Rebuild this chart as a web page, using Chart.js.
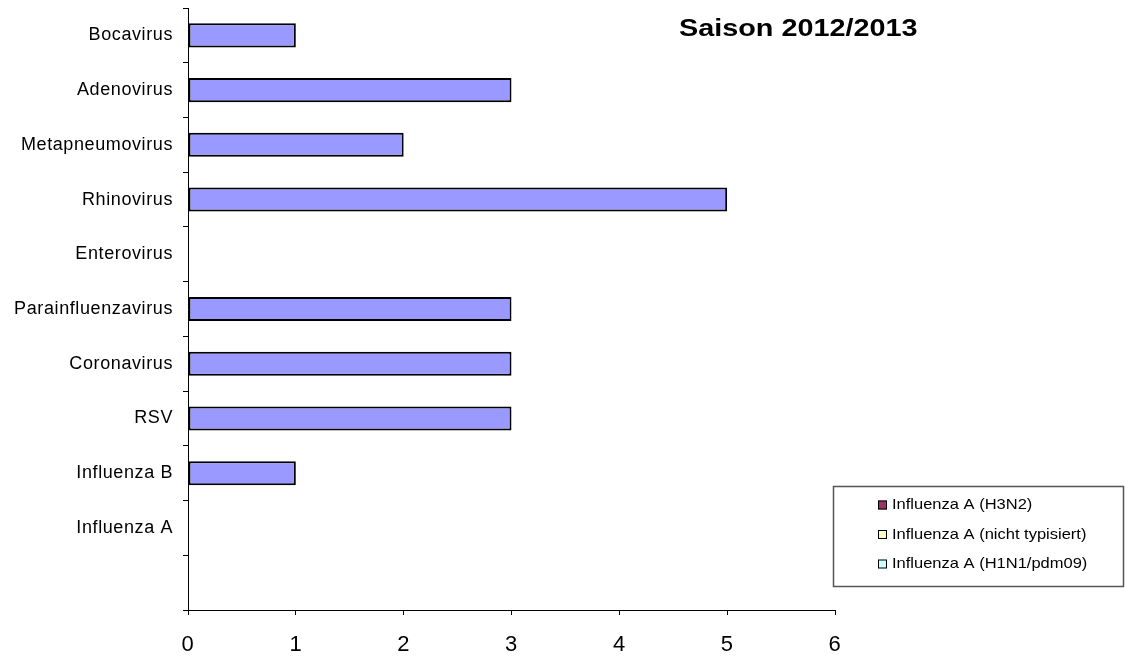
<!DOCTYPE html>
<html>
<head>
<meta charset="utf-8">
<script src="https://cdn.jsdelivr.net/npm/chart.js@4.4.1/dist/chart.umd.min.js"></script>
<style>
  html, body { margin: 0; padding: 0; background: #fff; }
</style>
</head>
<body>
<canvas id="chart" width="1125" height="662"></canvas>
<script>
// categories top to bottom, last row is left blank like the original
const categories = ['Bocavirus', 'Adenovirus', 'Metapneumovirus', 'Rhinovirus', 'Enterovirus',
  'Parainfluenzavirus', 'Coronavirus', 'RSV', 'Influenza B', 'Influenza A', ''];
const virusCounts = [1, 3, 2, 5, 0, 3, 3, 3, 1, null, null];
const fluH3N2 = [null, null, null, null, null, null, null, null, null, 0, null];
const fluUntyped = [null, null, null, null, null, null, null, null, null, 0, null];
const fluH1N1 = [null, null, null, null, null, null, null, null, null, 0, null];
const legendLabels = ['Influenza A (H3N2)', 'Influenza A (nicht typisiert)', 'Influenza A (H1N1/pdm09)'];
const legendColors = ['#993366', '#FFFFCC', '#CCFFFF'];
const chartTitle = 'Saison 2012/2013';

const FONT = '"Liberation Sans", Arial, sans-serif';

// the original text is a bit stretched
const spacingPlugin = {
  id: 'spacing',
  beforeDraw(chart) {
    chart.ctx.letterSpacing = '0.6px';
  }
};

// stretched text helper for the title and legend
function wideText(ctx, text, x, y, sx) {
  ctx.save();
  ctx.translate(x, y);
  ctx.scale(sx, 1);
  ctx.fillText(text, 0, 0);
  ctx.restore();
}

const overlayPlugin = {
  id: 'overlay',
  afterDraw(chart) {
    const ctx = chart.ctx;
    ctx.save();
    ctx.letterSpacing = '0px';
    ctx.fillStyle = '#000';
    ctx.font = 'bold 24px ' + FONT;
    ctx.textAlign = 'left';
    ctx.textBaseline = 'alphabetic';
    wideText(ctx, chartTitle, 679, 36, 1.2);

    ctx.lineWidth = 1.5;
    ctx.strokeStyle = '#555';
    ctx.strokeRect(833.5, 486.5, 290, 100);

    ctx.font = '15px ' + FONT;
    ctx.textBaseline = 'middle';
    legendLabels.forEach((label, i) => {
      const y = 505 + i * 29.5;
      ctx.fillStyle = legendColors[i];
      ctx.fillRect(878, y - 4.5, 9, 9);
      ctx.lineWidth = 1;
      ctx.strokeStyle = '#000';
      ctx.strokeRect(878.5, y - 4, 8, 8);
      ctx.fillStyle = '#000';
      wideText(ctx, label, 892, y, 1.1);
    });
    ctx.restore();
  }
};

const barStyle = { borderColor: '#000', borderWidth: 2, borderSkipped: false,
  barPercentage: 0.44, categoryPercentage: 1 };

new Chart(document.getElementById('chart'), {
  type: 'bar',
  data: {
    labels: categories,
    datasets: [
      { label: 'Anzahl', data: virusCounts, backgroundColor: '#9999FF', ...barStyle },
      { label: legendLabels[0], data: fluH3N2, backgroundColor: legendColors[0], ...barStyle },
      { label: legendLabels[1], data: fluUntyped, backgroundColor: legendColors[1], ...barStyle },
      { label: legendLabels[2], data: fluH1N1, backgroundColor: legendColors[2], ...barStyle }
    ]
  },
  options: {
    indexAxis: 'y',
    responsive: false,
    animation: false,
    layout: { padding: { top: 8, right: 290, left: 0, bottom: 0 } },
    plugins: {
      legend: { display: false },
      tooltip: { enabled: false }
    },
    scales: {
      x: {
        stacked: true,
        min: 0,
        max: 6,
        ticks: { stepSize: 1, color: '#000', padding: 17, font: { size: 22, family: FONT } },
        grid: { drawOnChartArea: false, tickLength: 5, color: '#000' },
        border: { color: '#000', width: 1 },
        afterFit: (scale) => { scale.height = 52; }
      },
      y: {
        stacked: true,
        ticks: { color: '#000', padding: 10, font: { size: 18, family: FONT } },
        grid: { drawOnChartArea: false, tickLength: 5, color: '#000', offset: true },
        border: { color: '#000', width: 1 },
        afterFit: (scale) => {
          scale.width = 188;
          scale.paddingTop = 0;
          scale.paddingBottom = 0;
        }
      }
    }
  },
  plugins: [spacingPlugin, overlayPlugin]
});
</script>
</body>
</html>
